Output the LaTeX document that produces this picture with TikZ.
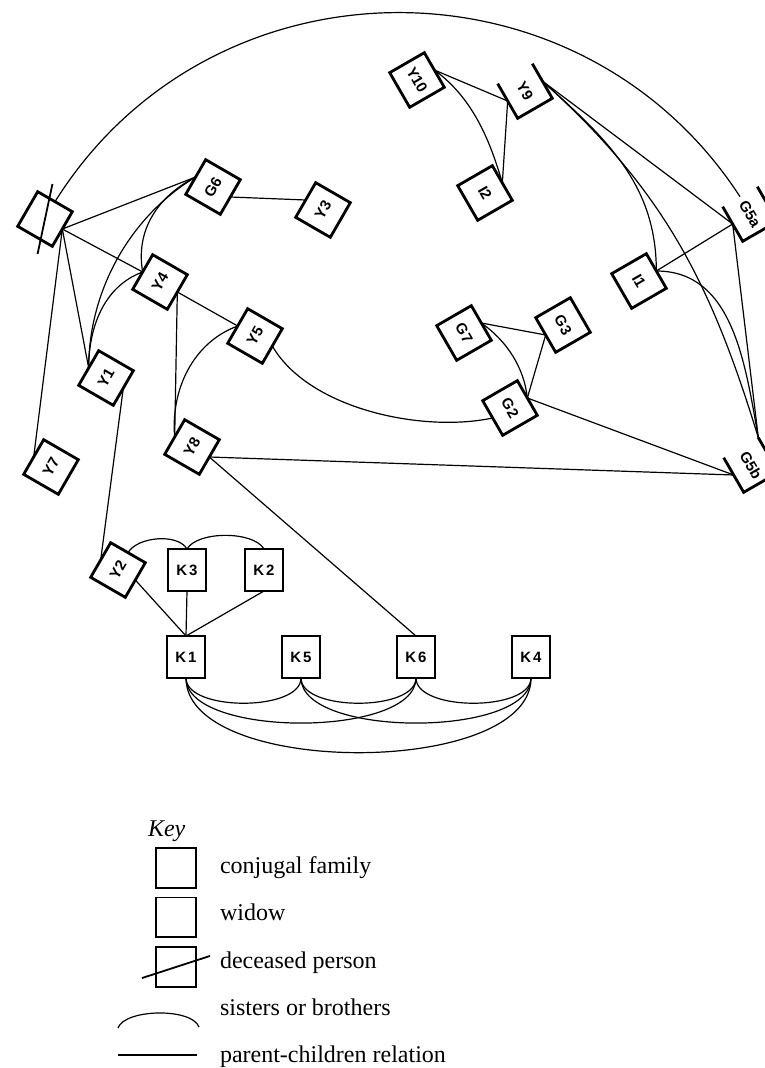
\documentclass[tikz,border=0pt]{standalone}
\usepackage{fontspec}
\setmainfont{Liberation Serif}
\newfontfamily\boxfont{Liberation Sans}
\usepackage{tikz}
\usetikzlibrary{positioning}
\usetikzlibrary{calc}
\newcommand{\boxsize}{40pt}
\newcommand{\boxline}{2.8pt}
\newcommand{\linkline}{1.2pt}
\newcommand{\slashline}{1.8pt}

\begin{document}
\begin{tikzpicture}[x=1pt, y=1pt, node distance=77pt, outer sep=0pt]
\tikzstyle{family}=[
    draw,
    rectangle,
    line width=\boxline,
    minimum height=\boxsize,
    minimum width=\boxsize,
    inner sep=0pt,
    font=\boxfont\bfseries\fontsize{15}{15}\selectfont]
\tikzstyle{famup}=[family, rotate=60]
\tikzstyle{famdown}=[family, rotate=-60]
\tikzstyle{widow}=[famdown, draw=none]
\tikzstyle{kin}=[family, minimum width=38pt, minimum height=42pt]
\tikzstyle{link}=[line width=\linkline]
\tikzstyle{keytext}=[anchor=base west, inner sep=0pt, font=\fontsize{24}{24}\selectfont]

\useasboundingbox (0,0) rectangle (764,-1068);

% left families
\node[famup] (D) at (45,-219) {};
\node[famup] (G6) at (213,-187) {G6};
\node[famup] (Y3) at (323,-210) {Y3};
\node[famup] (Y4) at (160,-282) {Y4};
\node[famup] (Y5) at (255,-336) {Y5};
\node[famup] (Y1) at (106,-378) {Y1};
\node[famup] (Y8) at (192,-447) {Y8};
\node[famup] (Y7) at (51,-467) {Y7};
\node[famup] (Y2) at (118,-570) {Y2};
\draw[line width=\slashline] ($(D.center)!1.7!(D.18)$) -- ($(D.center)!1.7!(D.198)$);

% right families
\node[famdown] (Y10) at (417,-80) {Y10};
\node[widow] (Y9) at (525,-91) {Y9};
\node[famdown] (I2) at (485,-193) {I2};
\node[famdown] (I1) at (639,-281) {I1};
\node[famdown] (G7) at (464,-333) {G7};
\node[famdown] (G3) at (563,-325) {G3};
\node[famdown] (G2) at (510,-408) {G2};
\node[widow] (G5a) at (750,-214) {G5a};
\node[widow] (G5b) at (751,-465) {G5b};
\draw[line width=\boxline] (Y9.north west) -- (Y9.north east) -- (Y9.south east) -- (Y9.south west);
\draw[line width=\boxline] (G5a.north west) -- (G5a.north east) -- (G5a.south east) -- (G5a.south west);
\draw[line width=\boxline] (G5b.north west) -- (G5b.north east) -- (G5b.south east) -- (G5b.south west);

% bottom row
\node[kin] (K3) at (187,-570) {K\kern2pt 3};
\node[kin] (K2) [right=39pt of K3] {K\kern2pt 2};
\node[kin] (K1) at (186,-657) {K\kern2pt 1};
\node[kin] (K5) [right=of K1] {K\kern2pt 5};
\node[kin] (K6) [right=of K5] {K\kern2pt 6};
\node[kin] (K4) [right=of K6] {K\kern2pt 4};

% parent-children lines
\draw[link] (D.south) -- (G6.north);
\draw[link] (D.south) -- (Y4.north);
\draw[link] (D.south) -- (Y1.north);
\draw[link] (D.south) -- (Y7.north);
\draw[link] (G6.south) -- (Y3.north);
\draw[link] (Y4.south) -- (Y5.north);
\draw[link] (Y4.south) -- (Y8.north);
\draw[link] (Y1.south) -- (Y2.north);
\draw[link] (Y2.south) -- (K1.north);
\draw[link] (K3.south) -- (K1.north);
\draw[link] (K2.south) -- (K1.north);
\draw[link] (Y8.south) -- (K6.north);
\draw[link] (Y8.south) -- (G5b.south);
\draw[link] (Y10.north) -- (Y9.south);
\draw[link] (Y9.south) -- (I2.north);
\draw[link] (Y9.north) -- (G5a.south);
\draw[link] (I1.north) -- (G5a.south);
\draw[link] (G5a.south) -- (G5b.north west);
\draw[link] (G7.north) -- (G3.south);
\draw[link] (G2.north) -- (G3.south);
\draw[link] (G2.north) -- (G5b.south);

% sisters or brothers
\draw[link] (D.east) to[out=58,in=123,looseness=1.1] (G5a.west);
\draw[link] (G6.north) to[out=207,in=100] (Y4.north);
\draw[link] (G6.north) to[out=211,in=90,looseness=0.9] (Y1.north);
\draw[link] (Y4.north) to[out=200,in=90,looseness=0.95] (Y1.north);
\draw[link] (Y5.north) to[out=200,in=95,looseness=0.95] (Y8.north);
\draw[link] (Y5.south) to[out=-60,in=192,looseness=0.8] (G2.south);
\draw[link] (Y2.east) to[out=60,in=120,looseness=0.8] (K3.north);
\draw[link] (K3.north) to[out=60,in=120,looseness=0.7] (K2.north);
\draw[link] (Y10.north) to[out=-36,in=106,looseness=0.9] (I2.north);
\draw[link] (Y9.north) to[out=-42,in=90] (I1.north);
\draw[link] (Y9.north) to[out=-42,in=107] (G5b.north west);
\draw[link] (I1.north) to[out=0,in=100] (G5b.north west);
\draw[link] (G7.north) to[out=-35,in=96,looseness=0.9] (G2.north);
\draw[link] (K1.south) to[out=-90,in=-90,looseness=0.75] (K5.south);
\draw[link] (K5.south) to[out=-90,in=-90,looseness=0.75] (K6.south);
\draw[link] (K6.south) to[out=-90,in=-90,looseness=0.75] (K4.south);
\draw[link] (K1.south) to[out=-90,in=-90,looseness=0.67] (K6.south);
\draw[link] (K5.south) to[out=-90,in=-90,looseness=0.67] (K4.south);
\draw[link] (K1.south) to[out=-90,in=-90,looseness=0.74] (K4.south);

% key
\node[keytext] (keytitle) at (148,-836) {\itshape Key};
\node[family] (keyfam) at (176,-868) {};
\node[family, draw=none] (keywidow) at (176,-917) {};
\draw[line width=\boxline] (keywidow.north west) -- (keywidow.south west) -- (keywidow.south east) -- (keywidow.north east);
\draw[line width=1pt] (keywidow.north west) -- (keywidow.north east);
\node[family] (keydead) at (176,-967) {};
\draw[line width=\slashline] ($(keydead.center)!1.7!(keydead.18)$) -- ($(keydead.center)!1.7!(keydead.198)$);
\coordinate (sibleft) at (118,-1028);
\coordinate (sibright) at (199,-1027);
\draw[link] (sibleft) to[out=70,in=110,looseness=0.65] (sibright);
\coordinate (parleft) at (118,-1055);
\coordinate (parright) at (197,-1055);
\draw[link] (parleft) -- (parright);
\node[keytext] (keyfamtext) at (220,-873) {conjugal family};
\node[keytext] (keywidowtext) at (220,-920) {widow};
\node[keytext] (keydeadtext) at (220,-968) {deceased person};
\node[keytext] (keysibtext) at (220,-1015) {sisters or brothers};
\node[keytext] (keypartext) at (220,-1062) {parent-children relation};
\end{tikzpicture}
\end{document}
